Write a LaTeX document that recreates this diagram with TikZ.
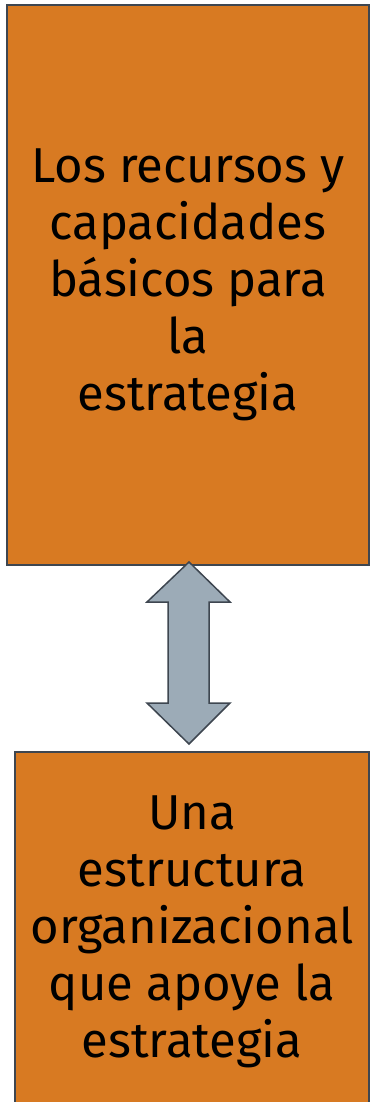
\documentclass[tikz,border=0pt]{standalone}
\usepackage{fontspec}
\setmainfont{Fira Sans}
\usepackage{tikz}
\usetikzlibrary{positioning}

\definecolor{boxorange}{HTML}{D87A22}
\definecolor{arrowgray}{HTML}{9CABB7}
\definecolor{edgegray}{HTML}{3E4650}

\begin{document}
\begin{tikzpicture}[x=1pt, y=-1pt,
        box/.style={draw=edgegray, line width=1.5pt, fill=boxorange, align=center,
            inner sep=0pt, font=\fontsize{49}{57}\selectfont},
        bigarrow/.style={draw=edgegray, line width=1.5pt, fill=arrowgray, line join=miter}
    ]
        \useasboundingbox (0,0) rectangle (370,1102);

        \node[box, minimum width=362pt, minimum height=560pt] (res) at (188,285)
            {Los recursos y\\capacidades\\básicos para\\la\\estrategia};
        \node[box, minimum width=354pt, minimum height=360pt] (org) at (192,932)
            {Una\\estructura\\organizacional\\que apoye la\\estrategia};

        % double block arrow between the two boxes
        \coordinate (up) at (189,562);
        \coordinate (down) at (189,744);
        \draw[bigarrow] (up) -- ++(41,40) -- ++(-21,0) -- ++(0,101) -- ++(21,0)
            -- (down) -- ++(-42,-41) -- ++(21,0) -- ++(0,-101) -- ++(-21,0) -- cycle;
    \end{tikzpicture}
\end{document}
